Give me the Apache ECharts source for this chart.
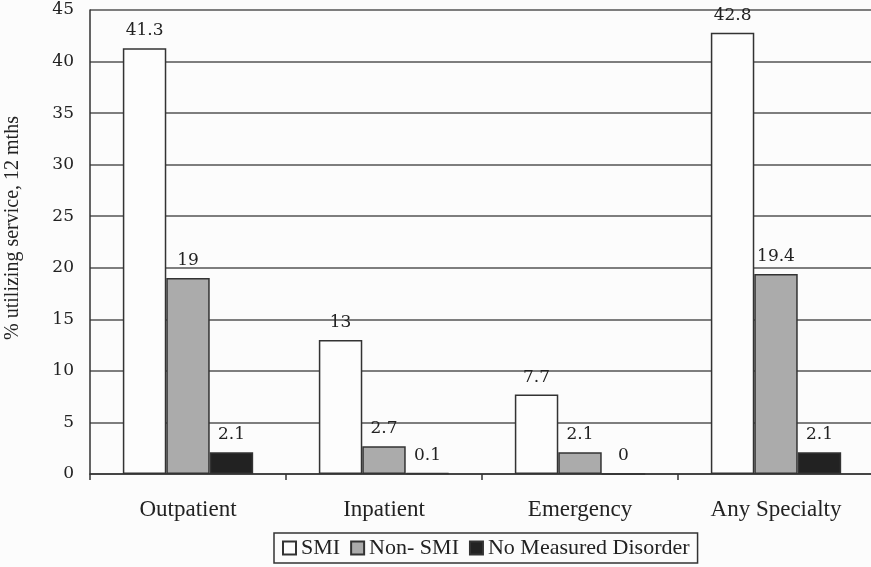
<!DOCTYPE html>
<html>
<head>
<meta charset="utf-8">
<script src="https://cdn.jsdelivr.net/npm/echarts@6/dist/echarts.min.js"></script>
<style>
html,body{margin:0;padding:0;background:#fcfcfc;}
#chart{width:871px;height:567px;}
</style>
</head>
<body>
<div id="chart"></div>
<script>
const categories = ['Outpatient', 'Inpatient', 'Emergency', 'Any Specialty'];
const seriesNames = ['SMI', 'Non- SMI', 'No Measured Disorder'];
const smiValues = [41.3, 13, 7.7, 42.8];
const nonSmiValues = [19, 2.7, 2.1, 19.4];
const noDisorderValues = [2.1, 0.1, 0, 2.1];
const yTicks = { min: 0, max: 45, interval: 5 };
const yAxisName = '% utilizing service, 12 mths';

const numFont = 'DejaVu Serif';
const textFont = 'Liberation Serif';
const fills = ['#fdfdfd', '#ababab', '#222222'];

function mkSeries(name, data, color) {
  return {
    name: name,
    type: 'bar',
    data: data,
    barGap: '0%',
    barCategoryGap: '33.5%',
    itemStyle: { color: color, borderColor: '#333', borderWidth: 1.5 },
    label: {
      show: true,
      position: 'top',
      distance: 9,
      fontFamily: numFont,
      fontSize: 17,
      color: '#222'
    }
  };
}

const chart = echarts.init(document.getElementById('chart'), null, { renderer: 'canvas' });
chart.setOption({
  backgroundColor: '#fcfcfc',
  animation: false,
  grid: { left: 90, top: 10, width: 784, height: 464, containLabel: false, outerBoundsMode: 'none' },
  legend: {
    data: seriesNames,
    left: 274,
    top: 533,
    icon: 'rect',
    itemWidth: 13,
    itemHeight: 13,
    itemGap: 10,
    padding: [4, 8],
    borderColor: '#333',
    borderWidth: 1.5,
    textStyle: { fontFamily: textFont, fontSize: 22, color: '#222' }
  },
  xAxis: {
    type: 'category',
    data: categories,
    axisLine: { lineStyle: { color: '#333', width: 1.5 } },
    axisTick: { show: true, length: 6, lineStyle: { color: '#333', width: 1.5 } },
    axisLabel: { fontFamily: textFont, fontSize: 23, color: '#222', margin: 24 }
  },
  yAxis: {
    type: 'value',
    min: yTicks.min,
    max: yTicks.max,
    interval: yTicks.interval,
    name: yAxisName,
    nameLocation: 'middle',
    nameGap: 67,
    nameTextStyle: { fontFamily: textFont, fontSize: 20, color: '#222', padding: [0, 0, 0, 28] },
    axisLine: { show: true, lineStyle: { color: '#333', width: 1.5 } },
    axisTick: { show: false },
    axisLabel: { fontFamily: numFont, fontSize: 17, color: '#222', margin: 16 },
    splitLine: { show: true, lineStyle: { color: '#555', width: 1.5 } }
  },
  series: [
    mkSeries(seriesNames[0], smiValues, fills[0]),
    mkSeries(seriesNames[1], nonSmiValues, fills[1]),
    mkSeries(seriesNames[2], noDisorderValues, fills[2])
  ]
});
</script>
</body>
</html>
